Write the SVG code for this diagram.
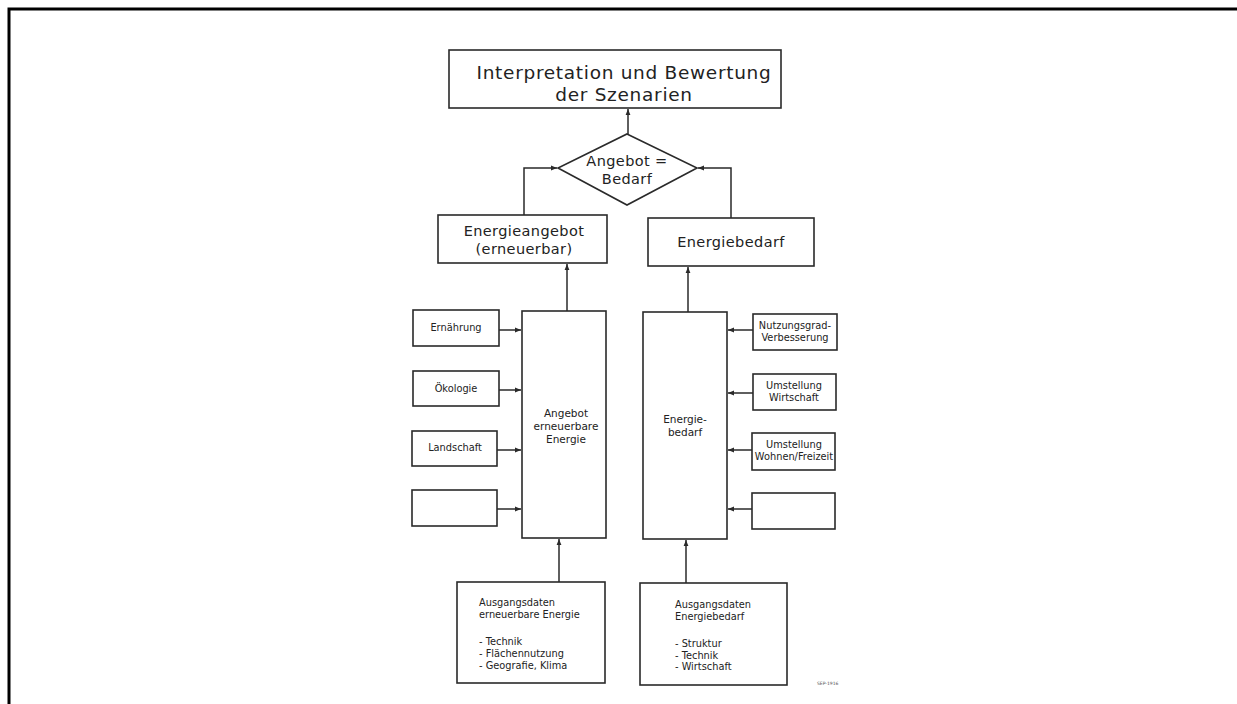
<svg xmlns="http://www.w3.org/2000/svg" width="1237" height="704" viewBox="0 0 1237 704">
<defs>
<style>
.box{fill:#fff;stroke:#2a2a2a;stroke-width:1.6}
.ln{fill:none;stroke:#2a2a2a;stroke-width:1.5}
text{font-family:"DejaVu Sans","Liberation Sans",sans-serif;fill:#222}
.c{text-anchor:middle}
.t19{font-size:18.5px;letter-spacing:0.7px}
.t15{font-size:14.5px;letter-spacing:0.4px}
.t11{font-size:10.5px}
.t10{font-size:9.8px}
</style>
<marker id="ah" viewBox="0 0 10 10" refX="10" refY="5" markerWidth="6" markerHeight="6" orient="auto" markerUnits="userSpaceOnUse">
<path d="M0,1 L10,5 L0,9 Z" fill="#2a2a2a"/>
</marker>
</defs>
<rect width="1237" height="704" fill="#fff"/>
<path d="M9,704 V9 H1237" fill="none" stroke="#000" stroke-width="3"/>

<g id="connectors">
<line class="ln" x1="628" y1="134" x2="628" y2="109" marker-end="url(#ah)"/>
<polyline class="ln" points="524,215 524,168 557,168" marker-end="url(#ah)"/>
<polyline class="ln" points="731,218 731,168 698,168" marker-end="url(#ah)"/>
<line class="ln" x1="567" y1="311" x2="567" y2="264" marker-end="url(#ah)"/>
<line class="ln" x1="688" y1="312" x2="688" y2="267" marker-end="url(#ah)"/>
<line class="ln" x1="499" y1="330" x2="521" y2="330" marker-end="url(#ah)"/>
<line class="ln" x1="499" y1="390" x2="521" y2="390" marker-end="url(#ah)"/>
<line class="ln" x1="497" y1="450" x2="521" y2="450" marker-end="url(#ah)"/>
<line class="ln" x1="497" y1="509" x2="521" y2="509" marker-end="url(#ah)"/>
<line class="ln" x1="753" y1="330" x2="728" y2="330" marker-end="url(#ah)"/>
<line class="ln" x1="753" y1="393" x2="728" y2="393" marker-end="url(#ah)"/>
<line class="ln" x1="752" y1="450" x2="728" y2="450" marker-end="url(#ah)"/>
<line class="ln" x1="752" y1="509" x2="728" y2="509" marker-end="url(#ah)"/>
<line class="ln" x1="559" y1="582" x2="559" y2="539" marker-end="url(#ah)"/>
<line class="ln" x1="686" y1="583" x2="686" y2="540" marker-end="url(#ah)"/>
</g>

<g id="interpretation">
<rect class="box" x="449" y="50" width="332" height="58"/>
<text class="c t19" x="624" y="79">Interpretation und Bewertung</text>
<text class="c t19" x="624" y="101">der Szenarien</text>
</g>

<g id="decision">
<polygon class="box" points="627,134 697,168 627,205 558,168"/>
<text class="c t15" x="627" y="166">Angebot =</text>
<text class="c t15" x="627" y="184">Bedarf</text>
</g>

<g id="energieangebot">
<rect class="box" x="438" y="215" width="169" height="48"/>
<text class="c t15" x="524" y="236">Energieangebot</text>
<text class="c t15" x="524" y="254">(erneuerbar)</text>
</g>

<g id="energiebedarf">
<rect class="box" x="648" y="218" width="166" height="48"/>
<text class="c t15" x="731" y="247">Energiebedarf</text>
</g>

<g id="angebot-ee">
<rect class="box" x="522" y="311" width="84" height="227"/>
<text class="c t11" x="566" y="417">Angebot</text>
<text class="c t11" x="566" y="430">erneuerbare</text>
<text class="c t11" x="566" y="443">Energie</text>
</g>

<g id="energie-bedarf-tall">
<rect class="box" x="643" y="312" width="84" height="227"/>
<text class="c t11" x="685" y="423">Energie-</text>
<text class="c t11" x="685" y="436">bedarf</text>
</g>

<g id="ernaehrung">
<rect class="box" x="413" y="310" width="86" height="36"/>
<text class="c t10" x="456" y="331">Ernährung</text>
</g>
<g id="oekologie">
<rect class="box" x="413" y="371" width="86" height="35"/>
<text class="c t10" x="456" y="392">Ökologie</text>
</g>
<g id="landschaft">
<rect class="box" x="412" y="431" width="85" height="35"/>
<text class="c t10" x="455" y="451">Landschaft</text>
</g>
<g id="leer-links">
<rect class="box" x="412" y="490" width="85" height="36"/>
</g>

<g id="nutzungsgrad">
<rect class="box" x="753" y="314" width="84" height="36"/>
<text class="c t10" x="795" y="329">Nutzungsgrad-</text>
<text class="c t10" x="795" y="341">Verbesserung</text>
</g>
<g id="umstellung-wirtschaft">
<rect class="box" x="753" y="374" width="83" height="36"/>
<text class="c t10" x="794" y="389">Umstellung</text>
<text class="c t10" x="794" y="401">Wirtschaft</text>
</g>
<g id="umstellung-wohnen">
<rect class="box" x="752" y="433" width="83" height="37"/>
<text class="c t10" x="794" y="448">Umstellung</text>
<text class="c t10" x="794" y="460">Wohnen/Freizeit</text>
</g>
<g id="leer-rechts">
<rect class="box" x="752" y="493" width="83" height="36"/>
</g>

<g id="ausgangsdaten-ee">
<rect class="box" x="457" y="582" width="148" height="101"/>
<text class="t10" x="479" y="606">Ausgangsdaten</text>
<text class="t10" x="479" y="618">erneuerbare Energie</text>
<text class="t10" x="479" y="645">- Technik</text>
<text class="t10" x="479" y="657">- Flächennutzung</text>
<text class="t10" x="479" y="669">- Geografie, Klima</text>
</g>

<g id="ausgangsdaten-bedarf">
<rect class="box" x="640" y="583" width="147" height="102"/>
<text class="t10" x="675" y="608">Ausgangsdaten</text>
<text class="t10" x="675" y="620">Energiebedarf</text>
<text class="t10" x="675" y="647">- Struktur</text>
<text class="t10" x="675" y="659">- Technik</text>
<text class="t10" x="675" y="670">- Wirtschaft</text>
</g>

<text x="817" y="685" style="font-size:4.5px;fill:#555">SEP-1916</text>
</svg>
